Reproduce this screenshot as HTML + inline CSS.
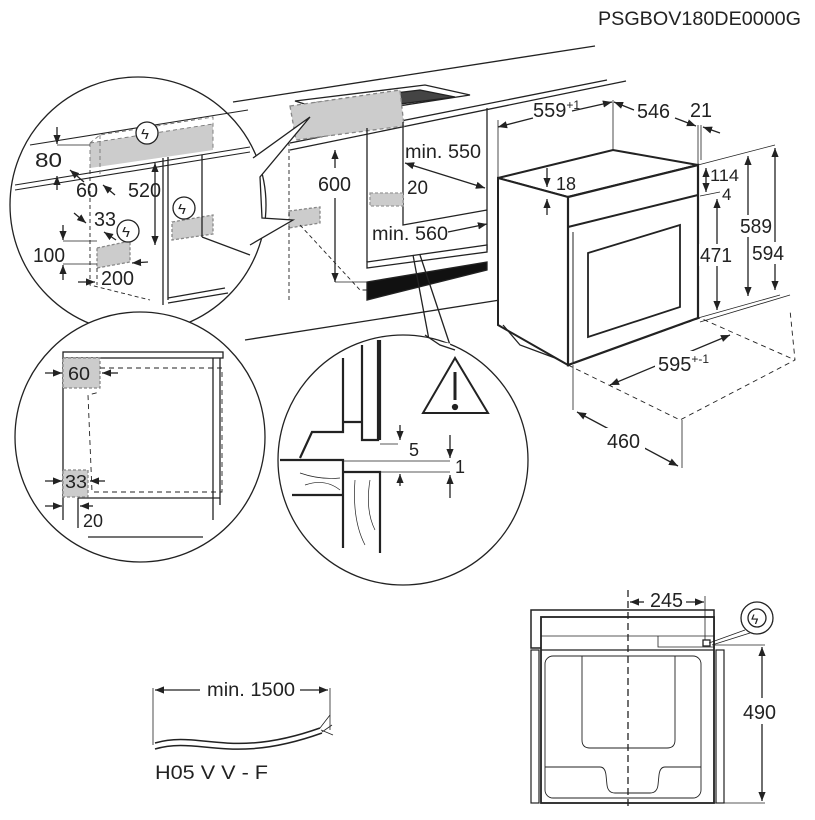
<!DOCTYPE html>
<html><head><style>
html,body{margin:0;padding:0;background:#fff}
svg{display:block}
text{font-family:"Liberation Sans",sans-serif;fill:#222}
</style></head><body>
<svg width="815" height="820" viewBox="0 0 815 820" xmlns="http://www.w3.org/2000/svg">
<defs>
<marker id="a" viewBox="0 0 10 10" refX="10" refY="5" markerWidth="7" markerHeight="7" orient="auto-start-reverse"><path d="M0,1 L10,5 L0,9 z" fill="#222"/></marker>
</defs>
<g stroke="#222" fill="none" stroke-width="1.3">
<text x="598" y="25" font-size="19" stroke="none" textLength="203" lengthAdjust="spacingAndGlyphs">PSGBOV180DE0000G</text>

<!-- counter lines -->
<line x1="233" y1="102" x2="595" y2="46"/>
<line x1="290" y1="143" x2="607" y2="80"/>
<line x1="290" y1="150" x2="626" y2="81"/>
<line x1="245" y1="340" x2="500" y2="300"/>
<!-- hob -->
<path d="M295,101 L425,85 L470,95 L340,115 Z" fill="#fff"/>
<path d="M312,103 L420,90 L455,97 L345,111 Z" fill="#444"/>
<path d="M290,106 L400,90 L404,126 L296,140 Z" fill="#ccc" stroke="#888" stroke-dasharray="4,3"/>
<!-- cabinet -->
<path d="M367,128 L367,262 M487,108 L487,250 M403,122 L403,225 L487,210" />
<path d="M367,262 L487,245 L487,252 L367,268 Z" fill="#fff"/>
<path d="M367,282 L487,262 L487,270 L367,300 Z" fill="#111"/>
<rect x="370" y="193" width="33" height="13" fill="#ccc" stroke="#999" stroke-dasharray="3,2"/>
<path d="M289,211 L320,207 L320,223 L289,228 Z" fill="#ccc" stroke="#888" stroke-dasharray="3,2"/>
<path d="M289,142 L289,300 M300,225 L360,290 L367,290" stroke-dasharray="4,3" stroke-width="0.9"/>
<line x1="335" y1="150" x2="335" y2="168" marker-start="url(#a)"/>
<line x1="335" y1="198" x2="335" y2="282" marker-end="url(#a)"/>
<line x1="335" y1="282" x2="367" y2="282" stroke-width="0.8"/>
<text x="318" y="191" font-size="20" stroke="none" textLength="33" lengthAdjust="spacingAndGlyphs">600</text>
<text x="405" y="158" font-size="19" stroke="none" textLength="76" lengthAdjust="spacingAndGlyphs">min. 550</text>
<line x1="405" y1="163" x2="485" y2="188" marker-start="url(#a)" marker-end="url(#a)"/>
<text x="407" y="194" font-size="19" stroke="none" textLength="21" lengthAdjust="spacingAndGlyphs">20</text>
<text x="372" y="240" font-size="19" stroke="none" textLength="76" lengthAdjust="spacingAndGlyphs">min. 560</text>
<line x1="448" y1="232" x2="487" y2="224" marker-end="url(#a)"/>
<!-- callout to middle circle -->
<path d="M413,255 L430,345 M420,255 L450,345"/>

<!-- Top-left circle -->
<circle cx="138" cy="205" r="128" fill="#fff"/>
<path d="M253,158 L310,117 L260,177 L262,218 L293,220 L250,245" fill="#fff" stroke="#222"/>
<path d="M30,145 L248,110 M15,185 L250,147 M15,190 L250,152" stroke-width="1.1"/>
<path d="M90,143 L213,124 L213,150 L90,168 Z" fill="#ccc" stroke="none"/>
<path d="M90,143 L100,135 L213,117 L213,150 M90,143 L90,168 M100,135 L100,175 M90,143 L213,124" stroke="#777" stroke-dasharray="4,3" stroke-width="0.9"/>
<path d="M97,248 L130,241 L130,262 L97,268 Z" fill="#ccc" stroke="#888" stroke-dasharray="3,2"/>
<path d="M172,222 L213,215 L213,234 L172,240 Z" fill="#ccc" stroke="#888" stroke-dasharray="3,2"/>
<path d="M163,158 L163,305 M168,157 L168,300 M202,155 L202,237 M168,298 L225,288 M168,303 L228,293 M202,237 L250,255"/>
<path d="M90,170 L90,285 L150,300 M97,268 L97,285" stroke-dasharray="4,3" stroke-width="0.9"/>
<circle cx="147" cy="133" r="11" fill="#fff"/><text x="141" y="139" font-size="15" stroke="none">ϟ</text>
<circle cx="184" cy="208" r="11" fill="#fff"/><text x="178" y="214" font-size="15" stroke="none">ϟ</text>
<circle cx="128" cy="231" r="11" fill="#fff"/><text x="122" y="237" font-size="15" stroke="none">ϟ</text>
<text x="35" y="167" font-size="20" stroke="none" textLength="27" lengthAdjust="spacingAndGlyphs">80</text>
<line x1="57" y1="127" x2="57" y2="144" marker-end="url(#a)"/>
<line x1="57" y1="190" x2="57" y2="176" marker-end="url(#a)"/>
<line x1="57" y1="145" x2="90" y2="145" stroke-width="0.7"/>
<text x="76" y="197" font-size="20" stroke="none" textLength="22" lengthAdjust="spacingAndGlyphs">60</text>
<line x1="70" y1="170" x2="84" y2="182" marker-start="url(#a)"/>
<line x1="115" y1="195" x2="103" y2="185" marker-end="url(#a)"/>
<text x="128" y="197" font-size="20" stroke="none" textLength="33" lengthAdjust="spacingAndGlyphs">520</text>
<line x1="155" y1="163" x2="155" y2="245" marker-start="url(#a)" marker-end="url(#a)"/>
<text x="94" y="226" font-size="20" stroke="none" textLength="22" lengthAdjust="spacingAndGlyphs">33</text>
<line x1="74" y1="213" x2="86" y2="223" marker-end="url(#a)"/>
<line x1="116" y1="240" x2="104" y2="232" marker-end="url(#a)"/>
<text x="33" y="262" font-size="20" stroke="none" textLength="32" lengthAdjust="spacingAndGlyphs">100</text>
<line x1="63" y1="225" x2="63" y2="240" marker-end="url(#a)"/>
<line x1="63" y1="280" x2="63" y2="265" marker-end="url(#a)"/>
<line x1="63" y1="241" x2="97" y2="241" stroke-width="0.7"/>
<line x1="63" y1="264" x2="97" y2="264" stroke-width="0.7"/>
<text x="101" y="285" font-size="20" stroke="none" textLength="33" lengthAdjust="spacingAndGlyphs">200</text>
<line x1="78" y1="282" x2="95" y2="282" marker-end="url(#a)"/>
<line x1="148" y1="262" x2="132" y2="263" marker-end="url(#a)"/>

<!-- Oven 3D -->
<path d="M498,178 L613,150 L698,165 L568,197 Z" fill="#fff" stroke-width="2"/>
<path d="M498,178 L568,197 L568,365 L498,325 Z" fill="#fff" stroke-width="2"/>
<path d="M568,197 L698,165 L698,318 L568,365 Z" fill="#fff" stroke-width="2.2"/>
<path d="M568,227 L698,195" stroke-width="2"/>
<path d="M573,232 L573,362" stroke-width="1"/>
<path d="M588,253 L680,225 L680,307 L588,337 Z" stroke-width="1.8"/>
<path d="M503,325 L520,345 L555,358 L568,365"/>
<path d="M498,178 L498,120 M613,150 L613,100 M698,165 L698,125 M701,160 L701,125" stroke-width="0.8"/>
<line x1="498" y1="127" x2="533" y2="118" marker-start="url(#a)"/>
<line x1="572" y1="111" x2="612" y2="102" marker-end="url(#a)"/>
<line x1="614" y1="102" x2="634" y2="110" marker-start="url(#a)"/>
<line x1="675" y1="118" x2="696" y2="126" marker-end="url(#a)"/>
<line x1="720" y1="133" x2="703" y2="127" marker-end="url(#a)"/>
<text x="533" y="117" font-size="20" stroke="none">559<tspan font-size="12" dy="-8">+1</tspan></text>
<text x="637" y="118" font-size="20" stroke="none" textLength="33" lengthAdjust="spacingAndGlyphs">546</text>
<text x="690" y="117" font-size="20" stroke="none" textLength="22" lengthAdjust="spacingAndGlyphs">21</text>
<line x1="547" y1="168" x2="547" y2="187" marker-end="url(#a)"/>
<line x1="547" y1="215" x2="547" y2="199" marker-end="url(#a)"/>
<text x="556" y="190" font-size="18" stroke="none" textLength="20" lengthAdjust="spacingAndGlyphs">18</text>
<path d="M698,165 L775,145 M700,196 L720,192 M698,318 L780,295 M700,322 L790,295" stroke-width="0.8"/>
<line x1="706" y1="168" x2="706" y2="192" marker-start="url(#a)" marker-end="url(#a)"/>
<text x="710" y="181" font-size="17" stroke="none" textLength="29" lengthAdjust="spacingAndGlyphs">114</text>
<text x="722" y="200" font-size="17" stroke="none">4</text>
<line x1="717" y1="199" x2="717" y2="310" marker-start="url(#a)" marker-end="url(#a)"/>
<rect x="699" y="244" width="34" height="22" fill="#fff" stroke="none"/>
<text x="700" y="262" font-size="20" stroke="none" textLength="32" lengthAdjust="spacingAndGlyphs">471</text>
<line x1="748" y1="156" x2="748" y2="296" marker-start="url(#a)" marker-end="url(#a)"/>
<rect x="739" y="215" width="34" height="22" fill="#fff" stroke="none"/>
<text x="740" y="233" font-size="20" stroke="none" textLength="32" lengthAdjust="spacingAndGlyphs">589</text>
<line x1="775" y1="148" x2="775" y2="290" marker-start="url(#a)" marker-end="url(#a)"/>
<rect x="751" y="242" width="34" height="22" fill="#fff" stroke="none"/>
<text x="752" y="260" font-size="20" stroke="none" textLength="32" lengthAdjust="spacingAndGlyphs">594</text>
<path d="M568,365 L680,420 L795,360 L790,310 M568,365 L700,318 L795,360" stroke-dasharray="5,4" stroke-width="0.9"/>
<line x1="610" y1="385" x2="730" y2="335" marker-start="url(#a)" marker-end="url(#a)"/>
<rect x="655" y="351" width="52" height="24" fill="#fff" stroke="none"/>
<text x="658" y="371" font-size="20" stroke="none">595<tspan font-size="12" dy="-8">+-1</tspan></text>
<path d="M573,365 L573,410 M682,420 L682,468" stroke-width="0.8"/>
<line x1="577" y1="412" x2="678" y2="466" marker-start="url(#a)" marker-end="url(#a)"/>
<rect x="603" y="428" width="42" height="24" fill="#fff" stroke="none"/>
<text x="607" y="448" font-size="20" stroke="none" textLength="33" lengthAdjust="spacingAndGlyphs">460</text>

<!-- bottom-left circle -->
<circle cx="140" cy="437" r="125" fill="#fff"/>
<rect x="63" y="352" width="160" height="6" fill="#fff"/>
<path d="M63,358 L63,520 M213,358 L213,520 M220,358 L220,505 M78,498 L220,498 M78,498 L78,528 M88,537 L203,537"/>
<rect x="63" y="358" width="37" height="30" fill="#ccc" stroke="#888" stroke-dasharray="3,2"/>
<rect x="63" y="470" width="25" height="27" fill="#ccc" stroke="#888" stroke-dasharray="3,2"/>
<path d="M100,368 L222,368 L222,492 L92,492 L88,395 L100,392" stroke-dasharray="5,4" stroke-width="0.9"/>
<text x="68" y="380" font-size="18" stroke="none" textLength="22" lengthAdjust="spacingAndGlyphs">60</text>
<text x="65" y="488" font-size="18" stroke="none" textLength="22" lengthAdjust="spacingAndGlyphs">33</text>
<text x="83" y="527" font-size="18" stroke="none" textLength="20" lengthAdjust="spacingAndGlyphs">20</text>
<line x1="45" y1="373" x2="62" y2="373" marker-end="url(#a)"/>
<line x1="118" y1="373" x2="102" y2="373" marker-end="url(#a)"/>
<line x1="45" y1="481" x2="62" y2="481" marker-end="url(#a)"/>
<line x1="105" y1="481" x2="90" y2="481" marker-end="url(#a)"/>
<line x1="45" y1="506" x2="62" y2="506" marker-end="url(#a)"/>
<line x1="93" y1="506" x2="80" y2="506" marker-end="url(#a)"/>

<!-- middle circle -->
<circle cx="403" cy="460" r="125" fill="#fff"/>
<path d="M430,345 L455,355 M420,340 L450,345" stroke="#fff" stroke-width="3"/>
<path d="M425,335 L440,345 L455,350" />
<path d="M455,358 L423,413 L488,413 Z" stroke-width="2"/>
<line x1="455" y1="372" x2="455" y2="400" stroke-width="3"/>
<circle cx="455" cy="407" r="2.5" fill="#222"/>
<path d="M280,460 L343,460 L343,548 M343,472 L380,472 L380,553 M292,495 L343,495" stroke-width="2.2"/>
<path d="M300,458 L312,432 L343,432 L343,422 L362,422 L362,440 L378,440 L378,340 M343,422 L343,358 M362,422 L362,345 M380,440 L380,340" stroke-width="2.2"/>
<path d="M343,461 L450,461 M380,472 L450,472 M380,444 L398,444" stroke-width="0.8"/>
<line x1="400" y1="425" x2="400" y2="440" marker-end="url(#a)"/>
<line x1="400" y1="486" x2="400" y2="474" marker-end="url(#a)"/>
<line x1="450" y1="435" x2="450" y2="458" marker-end="url(#a)"/>
<line x1="450" y1="498" x2="450" y2="475" marker-end="url(#a)"/>
<text x="409" y="456" font-size="18" stroke="none">5</text>
<text x="455" y="473" font-size="18" stroke="none">1</text>
<path d="M300,473 Q320,480 340,478 M305,485 Q325,478 340,490 M355,480 Q352,520 365,545 M370,480 Q365,510 375,530" stroke-width="0.7"/>

<!-- cable -->
<line x1="153" y1="688" x2="153" y2="745" stroke-width="0.8"/>
<line x1="330" y1="688" x2="330" y2="730" stroke-width="0.8"/>
<line x1="155" y1="690" x2="200" y2="690" marker-start="url(#a)"/>
<line x1="300" y1="690" x2="328" y2="690" marker-end="url(#a)"/>
<text x="207" y="696" font-size="19" stroke="none" textLength="88" lengthAdjust="spacingAndGlyphs">min. 1500</text>
<path d="M155,743 C200,730 230,760 320,728 M155,749 C200,736 230,766 322,733" stroke-width="1.5"/>
<path d="M320,728 L330,715 M322,732 L332,725 M321,730 L333,735" stroke-width="0.8"/>
<text x="155" y="779" font-size="19" stroke="none" textLength="113" lengthAdjust="spacingAndGlyphs">H05 V V - F</text>

<!-- front view -->
<rect x="531" y="610" width="183" height="38" stroke-width="1.5"/>
<rect x="541" y="617" width="173" height="186" stroke-width="1.8" fill="#fff"/>
<rect x="531" y="650" width="8" height="153" stroke-width="1.2"/>
<rect x="716" y="650" width="8" height="153" stroke-width="1.2"/>
<line x1="541" y1="636" x2="714" y2="636" stroke-width="0.8"/>
<line x1="541" y1="650" x2="714" y2="650" stroke-width="1.3"/>
<path d="M658,636 L658,647 L714,647" stroke-width="0.8"/>
<rect x="703" y="640" width="7" height="6"/>
<rect x="545" y="656" width="156" height="142" rx="8" stroke-width="0.9"/>
<path d="M582,656 L582,740 Q582,748 590,748 L667,748 Q675,748 675,740 L675,656" stroke-width="0.9"/>
<path d="M545,767 L600,767 Q605,767 606,775 L607,785 Q608,793 615,793 L650,793 Q657,793 658,785 L659,775 Q660,767 665,767 L701,767" stroke-width="0.9"/>
<line x1="628" y1="590" x2="628" y2="810" stroke-dasharray="7,4"/>
<line x1="705" y1="596" x2="705" y2="640" stroke-width="0.8"/>
<line x1="630" y1="602" x2="644" y2="602" marker-start="url(#a)"/>
<line x1="686" y1="602" x2="704" y2="602" marker-end="url(#a)"/>
<text x="650" y="607" font-size="20" stroke="none" textLength="33" lengthAdjust="spacingAndGlyphs">245</text>
<circle cx="757" cy="618" r="16" fill="#fff"/>
<circle cx="757" cy="618" r="9" fill="#fff"/><text x="751" y="624" font-size="14" stroke="none">ϟ</text>
<path d="M745,630 L709,643 M750,633 L712,645" stroke-width="0.8"/>
<path d="M714,645 L765,645 M714,803 L765,803" stroke-width="0.8"/>
<line x1="762" y1="647" x2="762" y2="801" marker-start="url(#a)" marker-end="url(#a)"/>
<rect x="742" y="698" width="40" height="26" fill="#fff" stroke="none"/>
<text x="743" y="719" font-size="20" stroke="none" textLength="33" lengthAdjust="spacingAndGlyphs">490</text>
</g>
</svg>
</body></html>
